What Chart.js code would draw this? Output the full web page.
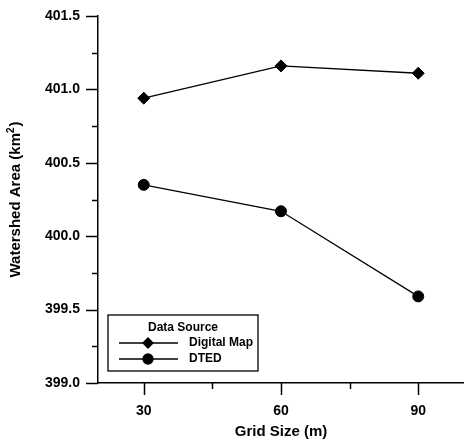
<!DOCTYPE html>
<html lang="en">
<head>
<meta charset="UTF-8">
<title>Watershed Area vs Grid Size</title>
<script src="https://cdn.jsdelivr.net/npm/chart.js"></script>
<style>
  body { margin: 0; background: #fff; }
  canvas { display: block; }
</style>
</head>
<body>
<canvas id="myChart" width="464" height="441"></canvas>
<script>
// data
const gridSizes = [30, 60, 90];
const digitalMap = [400.94, 401.16, 401.11];
const dted = [400.35, 400.17, 399.59];

// axis ticks (labels only on the major ones)
const xTickValues = [30, 45, 60, 75, 90];
const xMajor = [30, 60, 90];
const yTickValues = [399.0, 399.25, 399.5, 399.75, 400.0, 400.25, 400.5, 400.75, 401.0, 401.25, 401.5];
const yMajor = [399.0, 399.5, 400.0, 400.5, 401.0, 401.5];

const legendTitle = 'Data Source';
const yTitle = ['Watershed Area (km', '2', ')'];
const FONT = 'Liberation Sans, Arial, sans-serif';

function toPoints(xs, ys) {
    return xs.map((x, i) => ({ x: x, y: ys[i] }));
}

function isMajor(list, v) {
    return list.some(m => Math.abs(m - v) < 1e-6);
}

// tick marks pointing outward: long for major, short for minor
const tickMarks = {
    id: 'tickMarks',
    afterDraw(chart) {
        const ctx = chart.ctx;
        const xs = chart.scales.x, ys = chart.scales.y;
        ctx.save();
        ctx.strokeStyle = '#000';
        ctx.lineWidth = 1.5;
        ctx.beginPath();
        xs.ticks.forEach(t => {
            const px = Math.round(xs.getPixelForValue(t.value)) + 0.5;
            const len = isMajor(xMajor, t.value) ? 12 : 6;
            ctx.moveTo(px, xs.top);
            ctx.lineTo(px, xs.top + len);
        });
        ys.ticks.forEach(t => {
            const py = Math.round(ys.getPixelForValue(t.value)) + 0.5;
            const len = isMajor(yMajor, t.value) ? 12 : 6;
            ctx.moveTo(ys.right, py);
            ctx.lineTo(ys.right - len, py);
        });
        ctx.stroke();
        ctx.restore();
    }
};

// y title with a real superscript
const yAxisTitle = {
    id: 'yAxisTitle',
    afterDraw(chart) {
        const ctx = chart.ctx;
        const area = chart.chartArea;
        const big = 'bold 15px ' + FONT, small = 'bold 10px ' + FONT;
        ctx.save();
        ctx.fillStyle = '#000';
        ctx.textBaseline = 'middle';
        ctx.textAlign = 'left';
        ctx.font = big;
        const w0 = ctx.measureText(yTitle[0]).width;
        const w2 = ctx.measureText(yTitle[2]).width;
        ctx.font = small;
        const w1 = ctx.measureText(yTitle[1]).width + 1;
        const total = w0 + w1 + w2;
        ctx.translate(16, (area.top + area.bottom) / 2);
        ctx.rotate(-Math.PI / 2);
        let x = -total / 2;
        ctx.font = big;
        ctx.fillText(yTitle[0], x, 0);
        x += w0;
        ctx.font = small;
        ctx.fillText(yTitle[1], x, -5);
        x += w1;
        ctx.font = big;
        ctx.fillText(yTitle[2], x, 0);
        ctx.restore();
    }
};

// boxed legend in the lower-left corner, line with marker through it
const boxLegend = {
    id: 'boxLegend',
    afterDraw(chart) {
        const ctx = chart.ctx;
        const area = chart.chartArea;
        const left = area.left + 10, right = left + 150;
        const bottom = area.bottom - 12, top = bottom - 56;
        ctx.save();
        ctx.fillStyle = '#fff';
        ctx.fillRect(left, top, right - left, bottom - top);
        ctx.strokeStyle = '#000';
        ctx.lineWidth = 1.3;
        ctx.strokeRect(left, top, right - left, bottom - top);

        ctx.fillStyle = '#000';
        ctx.font = 'bold 12px ' + FONT;
        ctx.textAlign = 'center';
        ctx.textBaseline = 'middle';
        ctx.fillText(legendTitle, left + 75, top + 13);

        chart.data.datasets.forEach((ds, i) => {
            const y = top + 28 + i * 16;
            ctx.beginPath();
            ctx.lineWidth = 1.3;
            ctx.moveTo(left + 11, y);
            ctx.lineTo(left + 70, y);
            ctx.stroke();
            Chart.helpers.drawPoint(ctx, {
                pointStyle: ds.pointStyle,
                radius: ds.legendRadius,
                borderWidth: 1,
                rotation: 0
            }, left + 40, y);
            ctx.fill();
            ctx.textAlign = 'left';
            ctx.fillText(ds.label, left + 81, y);
        });
        ctx.restore();
    }
};

const ctx = document.getElementById('myChart').getContext('2d');
new Chart(ctx, {
    type: 'scatter',
    data: {
        datasets: [
            {
                label: 'Digital Map',
                data: toPoints(gridSizes, digitalMap),
                showLine: true,
                borderColor: '#000',
                backgroundColor: '#000',
                borderWidth: 1.3,
                pointStyle: 'rectRot',
                pointRadius: 6,
                pointBorderWidth: 1,
                legendRadius: 5
            },
            {
                label: 'DTED',
                data: toPoints(gridSizes, dted),
                showLine: true,
                borderColor: '#000',
                backgroundColor: '#000',
                borderWidth: 1.3,
                pointStyle: 'circle',
                pointRadius: 5.5,
                pointBorderWidth: 1,
                legendRadius: 5
            }
        ]
    },
    options: {
        responsive: false,
        animation: false,
        layout: { autoPadding: false, padding: { top: 16, right: 0, bottom: 0, left: 0 } },
        plugins: {
            legend: { display: false },
            tooltip: { enabled: false }
        },
        scales: {
            x: {
                type: 'linear',
                min: 20,
                max: 100,
                afterBuildTicks: scale => { scale.ticks = xTickValues.map(v => ({ value: v })); },
                afterFit: scale => { scale.height = 58; },
                grid: { display: false, drawTicks: true, tickLength: 12 },
                border: { display: true, color: '#000', width: 1.5 },
                ticks: {
                    color: '#000',
                    font: { family: FONT, size: 14, weight: 'bold' },
                    padding: 8,
                    maxRotation: 0,
                    callback: v => isMajor(xMajor, v) ? String(v) : ''
                },
                title: {
                    display: true,
                    text: 'Grid Size (m)',
                    color: '#000',
                    font: { family: FONT, size: 15, weight: 'bold' },
                    padding: { top: 0, bottom: 0 }
                }
            },
            y: {
                type: 'linear',
                min: 399,
                max: 401.5,
                afterBuildTicks: scale => { scale.ticks = yTickValues.map(v => ({ value: v })); },
                afterFit: scale => { scale.width = 98; },
                grid: { display: false, drawTicks: true, tickLength: 12 },
                border: { display: true, color: '#000', width: 1.5 },
                ticks: {
                    color: '#000',
                    font: { family: FONT, size: 14, weight: 'bold' },
                    padding: 6,
                    callback: v => isMajor(yMajor, v) ? v.toFixed(1) : ''
                },
                title: { display: false }
            }
        }
    },
    plugins: [tickMarks, yAxisTitle, boxLegend]
});
</script>
</body>
</html>
